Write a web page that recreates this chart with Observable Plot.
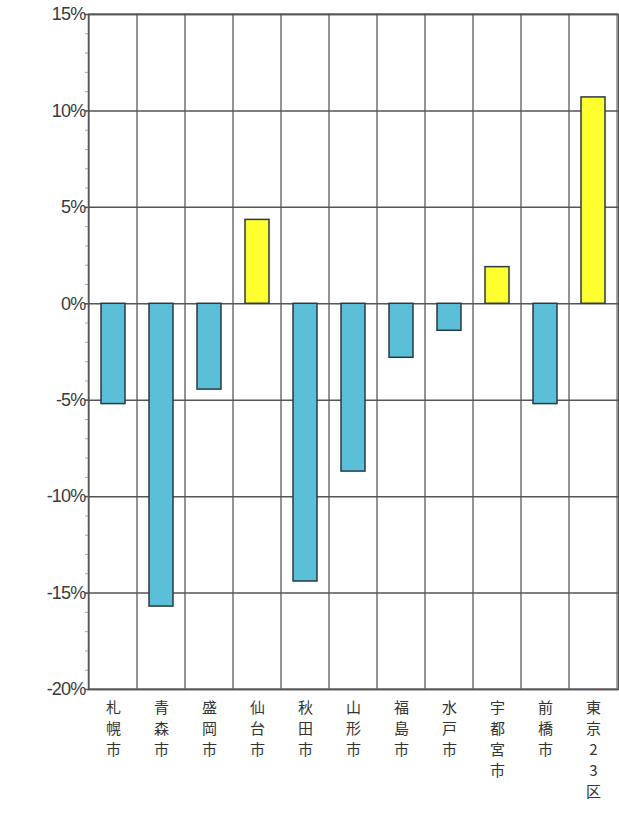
<!DOCTYPE html>
<html>
<head>
<meta charset="utf-8">
<script src="https://cdn.jsdelivr.net/npm/d3@7"></script>
<script src="https://cdn.jsdelivr.net/npm/@observablehq/plot@0.6"></script>
<style>
  html, body { margin: 0; padding: 0; background: #fff; }
  #chart svg { display: block; }
</style>
</head>
<body>
<div id="chart"></div>
<script>
// Categories (cities) and change rate (%)
const cities = ["札幌市", "青森市", "盛岡市", "仙台市", "秋田市", "山形市", "福島市", "水戸市", "宇都宮市", "前橋市", "東京23区"];
const changes = [-5.2, -15.7, -4.45, 4.35, -14.4, -8.7, -2.8, -1.4, 1.9, -5.2, 10.7];
const yMajorTicks = [-20, -15, -10, -5, 0, 5, 10, 15];
const yMinorTicks = d3.range(-20, 16, 1);

const data = cities.map((c, i) => ({city: c, value: changes[i]}));

const chart = Plot.plot({
  width: 619,
  height: 818,
  marginTop: 14,
  marginBottom: 129,
  marginLeft: 88,
  marginRight: 1,
  style: {fontFamily: "'Liberation Sans', Arial, sans-serif", background: "#fff"},
  x: {domain: cities, padding: 0, axis: null, label: null},
  y: {domain: [-20, 15], axis: null, label: null},
  marks: [
    // vertical category separators
    Plot.barY(cities, {x: d => d, y1: -20, y2: 15, fill: "none", stroke: "#8c8c8c", strokeWidth: 1.5}),
    // major horizontal gridlines
    Plot.ruleY(yMajorTicks, {stroke: "#555", strokeWidth: 1.5}),
    // minor ticks
    Plot.axisY({ticks: yMinorTicks, tickFormat: () => "", tickSize: 3, stroke: "#aaa", label: null}),
    // major ticks with labels
    Plot.axisY({ticks: yMajorTicks, tickFormat: d => d + "%", tickSize: 3, tickPadding: 0,
      fontSize: 18, fill: "#3a3a3a", stroke: "#555", strokeWidth: 1.5, label: null}),
    // bars
    Plot.barY(data, {
      x: "city", y: "value",
      fill: d => d.value >= 0 ? "#ffff2e" : "#5bbfd9",
      stroke: "#2a3a40", strokeWidth: 1.5,
      insetLeft: 12, insetRight: 12
    }),
    Plot.frame({stroke: "#555", strokeWidth: 1.5}),
    // vertical category labels
    Plot.text(cities, {
      x: d => d, y: -20,
      text: d => [...d].join("\n"),
      lineAnchor: "top", lineHeight: 1.4, dy: 9,
      fontSize: 15, fill: "#333",
      fontFamily: "'Noto Sans CJK JP', sans-serif"
    })
  ]
});

// tighten y label letter spacing
chart.querySelectorAll("text").forEach(t => {
  if (/%$/.test(t.textContent)) t.setAttribute("letter-spacing", "-0.8");
});

document.getElementById("chart").appendChild(chart);
</script>
</body>
</html>
